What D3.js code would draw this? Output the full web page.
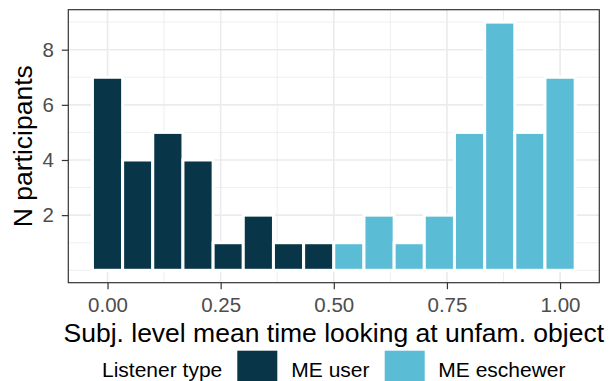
<!DOCTYPE html>
<html>
<head>
<meta charset="utf-8">
<script src="https://cdn.jsdelivr.net/npm/d3@7"></script>
<style>
  body { margin: 0; background: #fff; }
  svg text { font-family: "Liberation Sans", Arial, sans-serif; }
</style>
</head>
<body>
<svg id="chart" width="610" height="381"></svg>
<script>
// histogram bins (centres), counts per bin, and listener type
var binCenters = [0.000, 0.0667, 0.1333, 0.2000, 0.2667, 0.3333, 0.4000, 0.4667,
                  0.5333, 0.6000, 0.6667, 0.7333, 0.8000, 0.8667, 0.9333, 1.0000];
var binWidth = 0.0667;
var counts = [7, 4, 5, 4, 1, 2, 1, 1, 1, 2, 1, 2, 5, 9, 5, 7];
var groups = ["ME user", "ME user", "ME user", "ME user", "ME user", "ME user", "ME user", "ME user",
              "ME eschewer", "ME eschewer", "ME eschewer", "ME eschewer",
              "ME eschewer", "ME eschewer", "ME eschewer", "ME eschewer"];
var legendLabels = ["ME user", "ME eschewer"];
var xTicks = [0, 0.25, 0.5, 0.75, 1];
var xMinor = [0.125, 0.375, 0.625, 0.875];
var yTicks = [2, 4, 6, 8];
var yMinor = [0, 1, 3, 5, 7, 9];

var colour = d3.scaleOrdinal()
    .domain(legendLabels)
    .range(["#083548", "#5bbcd6"]);

var panel = {left: 68.3, right: 599.3, top: 9.7, bottom: 282.7};

var x = d3.scaleLinear().domain([-0.0867, 1.0867]).range([panel.left, panel.right]);
var y = d3.scaleLinear().domain([-0.45, 9.45]).range([panel.bottom, panel.top]);

var svg = d3.select("svg#chart");

// grid
var grid = svg.append("g");
grid.selectAll("line.xminor").data(xMinor).enter().append("line")
    .attr("x1", function(d) { return x(d); }).attr("x2", function(d) { return x(d); })
    .attr("y1", panel.top).attr("y2", panel.bottom)
    .attr("stroke", "#ebebeb").attr("stroke-width", 0.8);
grid.selectAll("line.yminor").data(yMinor).enter().append("line")
    .attr("y1", function(d) { return y(d); }).attr("y2", function(d) { return y(d); })
    .attr("x1", panel.left).attr("x2", panel.right)
    .attr("stroke", "#ebebeb").attr("stroke-width", 0.8);
grid.selectAll("line.xmajor").data(xTicks).enter().append("line")
    .attr("x1", function(d) { return x(d); }).attr("x2", function(d) { return x(d); })
    .attr("y1", panel.top).attr("y2", panel.bottom)
    .attr("stroke", "#ebebeb").attr("stroke-width", 1.6);
grid.selectAll("line.ymajor").data(yTicks).enter().append("line")
    .attr("y1", function(d) { return y(d); }).attr("y2", function(d) { return y(d); })
    .attr("x1", panel.left).attr("x2", panel.right)
    .attr("stroke", "#ebebeb").attr("stroke-width", 1.6);

// bars
svg.append("g").selectAll("rect")
    .data(counts)
    .enter().append("rect")
    .attr("x", function(d, i) { return x(binCenters[i] - binWidth / 2); })
    .attr("width", function(d, i) { return x(binCenters[i] + binWidth / 2) - x(binCenters[i] - binWidth / 2); })
    .attr("y", function(d) { return y(d); })
    .attr("height", function(d) { return y(0) - y(d); })
    .attr("fill", function(d, i) { return colour(groups[i]); })
    .attr("stroke", "#fff")
    .attr("stroke-width", 3);

// panel border
svg.append("rect")
    .attr("x", panel.left).attr("y", panel.top)
    .attr("width", panel.right - panel.left).attr("height", panel.bottom - panel.top)
    .attr("fill", "none").attr("stroke", "#333").attr("stroke-width", 1.2);

// axes
var xAxis = svg.append("g")
    .attr("transform", "translate(0," + panel.bottom + ")")
    .call(d3.axisBottom(x).tickValues(xTicks).tickFormat(d3.format(".2f")).tickSize(6.5).tickPadding(8));
var yAxis = svg.append("g")
    .attr("transform", "translate(" + panel.left + ",0)")
    .call(d3.axisLeft(y).tickValues(yTicks).tickSize(6.5).tickPadding(8));

[xAxis, yAxis].forEach(function(a) {
    a.select(".domain").remove();
    a.selectAll(".tick line").attr("stroke", "#333").attr("stroke-width", 1.2);
    a.selectAll(".tick text").attr("fill", "#4d4d4d").style("font-size", "20.5px");
});

// axis titles
svg.append("text")
    .attr("x", (panel.left + panel.right) / 2)
    .attr("y", 341.7)
    .attr("text-anchor", "middle")
    .style("font-size", "26.5px")
    .text("Subj. level mean time looking at unfam. object");

svg.append("text")
    .attr("transform", "translate(32," + ((panel.top + panel.bottom) / 2) + ") rotate(-90)")
    .attr("text-anchor", "middle")
    .style("font-size", "26.5px")
    .text("N participants");

// legend
var legend = svg.append("g");
legend.append("text")
    .attr("x", 102).attr("y", 376.5)
    .style("font-size", "21px")
    .text("Listener type");

var keyX = [237.3, 384.7];
var labelX = [291.3, 438.3];
legendLabels.forEach(function(l, i) {
    legend.append("rect")
        .attr("x", keyX[i]).attr("y", 350.7)
        .attr("width", 40).attr("height", 40)
        .attr("fill", colour(l));
    legend.append("text")
        .attr("x", labelX[i]).attr("y", 376.5)
        .style("font-size", "21px")
        .text(l);
});
</script>
</body>
</html>
